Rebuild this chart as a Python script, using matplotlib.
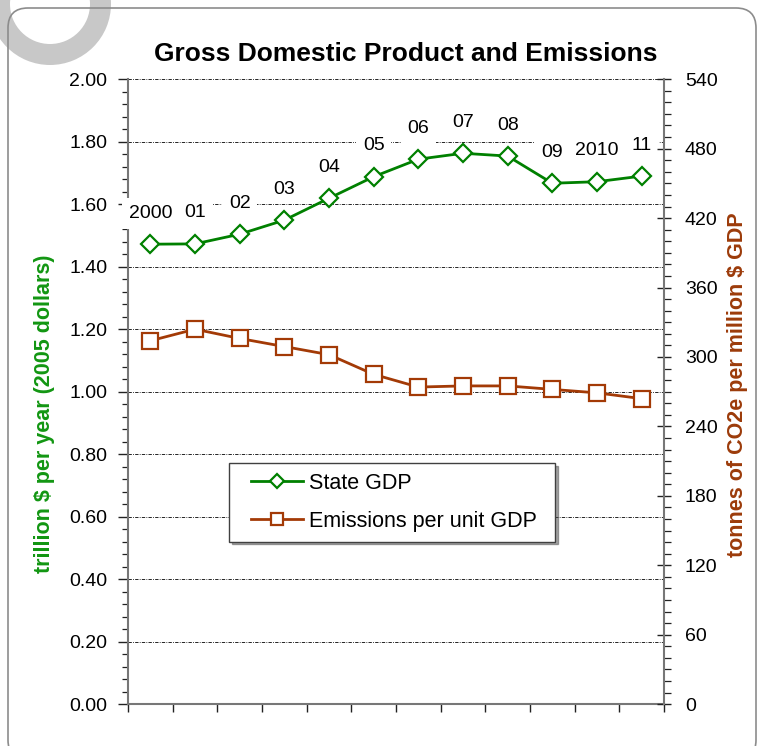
import numpy as np
import matplotlib
matplotlib.use('Agg')
import matplotlib.pyplot as plt
from matplotlib.patches import Wedge, FancyBboxPatch
from matplotlib.transforms import IdentityTransform
from matplotlib.ticker import MultipleLocator
from matplotlib.legend_handler import HandlerLine2D

plt.rcParams['font.family'] = ['Liberation Sans', 'DejaVu Sans']

# yearly values, 2000 - 2011
year_labels = ['2000', '01', '02', '03', '04', '05', '06', '07', '08', '09', '2010', '11']
gdp = [1.472, 1.473, 1.504, 1.549, 1.619, 1.688, 1.744, 1.763, 1.754, 1.667, 1.672, 1.690]
emis_per_gdp = [314, 324, 316, 309, 302, 285, 274, 275, 275, 272, 269, 264]

green = '#008000'
brown = '#A33A06'
label_green = '#129612'
label_brown = '#9C3B0A'

W, H = 760, 746
fig = plt.figure(figsize=(W / 100, H / 100), dpi=100)
fig.patch.set_facecolor('white')

# background decoration in pixels (origin bottom left)
px = IdentityTransform()
fig.add_artist(Wedge((50, H - 4), 61, 0, 360, width=21, facecolor='#c8c8c8',
                     edgecolor='none', transform=px, zorder=0))
fig.add_artist(FancyBboxPatch((8, -14), 748, H - 8 + 14, boxstyle='round,pad=0,rounding_size=20',
                              facecolor='none', edgecolor='#8c8c8c', lw=1.2,
                              transform=px, zorder=0.5))

left, right = 128, 664
top, bottom = 79.2, 704.2
ax = fig.add_axes([left / W, 1 - bottom / H, (right - left) / W, (bottom - top) / H])
ax.patch.set_alpha(0)
x = np.arange(len(gdp))

ax.set_xlim(-0.5, len(gdp) - 0.5)
ax.set_ylim(0, 2.0)
ax.yaxis.set_minor_locator(MultipleLocator(0.04))
ax.set_yticks(np.arange(0, 2.01, 0.2))
ax.set_yticklabels(['%.2f' % v for v in np.arange(0, 2.01, 0.2)], fontsize=14)
ax.set_xticks(np.arange(-0.5, len(gdp), 1.0))
ax.set_xticklabels([])
ax.tick_params(axis='x', direction='out', length=6, width=1, color='#222222')
ax.tick_params(axis='y', which='major', direction='out', length=7, width=1, color='#222222', pad=8)
ax.tick_params(axis='y', which='minor', direction='out', length=4, width=0.9, color='#222222')
for s in ['top', 'right']:
    ax.spines[s].set_visible(False)
for s in ['left', 'bottom']:
    ax.spines[s].set_color('#777777')
    ax.spines[s].set_linewidth(1.5)
ax.yaxis.grid(True, which='major', linestyle=(0, (4, 1.5, 1, 1.5)), color='black', lw=0.6)
for gl in ax.get_ygridlines():
    gl.set_clip_on(False)
ax.set_axisbelow(True)

ax.plot(x, gdp, color=green, lw=2, marker='D', markersize=9.5, markerfacecolor='white',
        markeredgecolor=green, markeredgewidth=1.6, zorder=4, label='State GDP')

# year labels above the GDP points
for xi, yi, lab in zip(x, gdp, year_labels):
    ax.annotate(lab, (xi, yi), xytext=(0, 31), textcoords='offset pixels',
                ha='center', va='center', fontsize=14, zorder=5,
                bbox=dict(boxstyle='square,pad=0.35', facecolor='white', edgecolor='none'))

ax2 = ax.twinx()
ax2.set_ylim(0, 540)
ax2.yaxis.set_major_locator(MultipleLocator(60))
ax2.yaxis.set_minor_locator(MultipleLocator(10))
ax2.tick_params(axis='y', which='major', direction='inout', length=10, width=1,
                color='#222222', labelsize=14, pad=10)
ax2.tick_params(axis='y', which='minor', direction='out', length=5, width=0.9, color='#222222')
for s in ['top', 'left', 'bottom']:
    ax2.spines[s].set_visible(False)
ax2.spines['right'].set_color('#777777')
ax2.spines['right'].set_linewidth(1.5)

ax2.plot(x, emis_per_gdp, color=brown, lw=2, marker='s', markersize=11, markerfacecolor='white',
         markeredgecolor=brown, markeredgewidth=1.6, zorder=4, label='Emissions per unit GDP')

# axis titles
fig.text(45 / W, 1 - 414 / H, 'trillion $ per year (2005 dollars)', rotation=90,
         ha='center', va='center', fontsize=15.5, fontweight='bold', color=label_green)
fig.text(738 / W, 1 - 385 / H, 'tonnes of CO2e per million $ GDP', rotation=90,
         ha='center', va='center', fontsize=15.5, fontweight='bold', color=label_brown)

h1, l1 = ax.get_legend_handles_labels()
h2, l2 = ax2.get_legend_handles_labels()
leg_fs = 15.5
leg_h = 78 / (bottom - top)
leg = ax2.legend(h1 + h2, l1 + l2, loc='upper left',
                 bbox_to_anchor=(0.188, 0.386 - leg_h, 326 / (right - left), leg_h),
                 mode='expand', borderaxespad=0, fontsize=leg_fs, fancybox=False, shadow=True,
                 handlelength=2.98, handletextpad=0.28, labelspacing=0.8,
                 borderpad=0.45, numpoints=1, markerscale=0.8,
                 handler_map={h: HandlerLine2D(xpad=0.56) for h in h1 + h2})
leg.get_frame().set_edgecolor('#404040')
leg.get_frame().set_linewidth(1)

fig.text(406 / W, 1 - 61 / H, 'Gross Domestic Product and Emissions', ha='center',
         va='baseline', fontsize=19, fontweight='bold')

fig.savefig('out.png', dpi=100)
